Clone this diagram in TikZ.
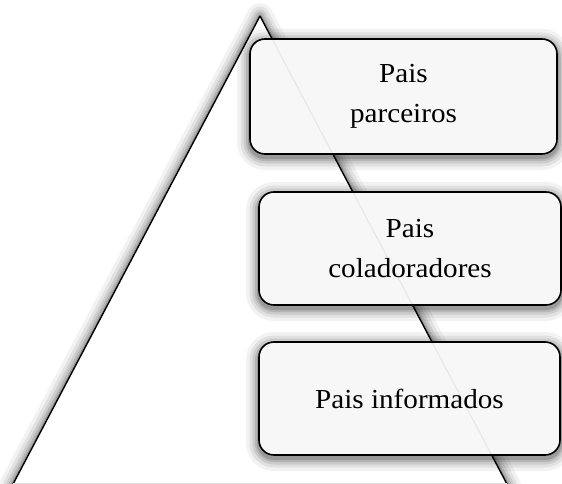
\documentclass[tikz,border=0pt]{standalone}
\usepackage{fontspec}
\setmainfont{Liberation Serif}
\newfontfamily\boxfont[FakeStretch=1.06]{Liberation Serif}
\tikzset{
  glowline/.style={draw=black, line join=round},
  levelbox/.style={draw=black, line width=1.6pt, rounded corners=15pt,
    fill=black!3, align=center, inner sep=0pt,
    font=\boxfont\fontsize{27.5}{40}\selectfont,
    path picture={\draw[black!9, line width=1.2pt] (apex) -- (br);}},
  boxglow/.style={draw=black, rounded corners=15pt, line join=round}
}
\begin{document}
\begin{tikzpicture}[x=1pt, y=-1pt]
\useasboundingbox (0,0) rectangle (562,484);
\coordinate (apex) at (260,16);
\coordinate (bl) at (12,486);
\coordinate (br) at (508,486);
% triangle glow
\foreach \w/\o in {26/0.05,19/0.07,13/0.09,8/0.11,4/0.14}
  \path[glowline, line width=\w pt, draw opacity=\o] (apex) -- (br) -- (bl) -- cycle;
\path[fill=white] (apex) -- (br) -- (bl) -- cycle;
\draw[line width=1.4pt, line join=miter] (apex) -- (br) (apex) -- (bl);
\draw[black!12, line width=1pt] (13,483.5) -- (507,483.5);
% box glows
\foreach \x/\y/\X/\Y in {250/39/557/154, 259/192/561/305, 259/342/560/455}{
  \foreach \w/\o in {26/0.05,19/0.07,13/0.09,8/0.11,4/0.15}
    \path[boxglow, line width=\w pt, draw opacity=\o] (\x,\y+3) rectangle (\X,\Y+3);
}
\node[levelbox, minimum width=307pt, minimum height=115pt] (b1) at (403.5,96.5) {Pais\\parceiros};
\node[levelbox, minimum width=302pt, minimum height=113pt] (b2) at (410,248.5) {Pais\\coladoradores};
\node[levelbox, minimum width=301pt, minimum height=113pt] (b3) at (409.5,398.5) {Pais informados};
\end{tikzpicture}
\end{document}
